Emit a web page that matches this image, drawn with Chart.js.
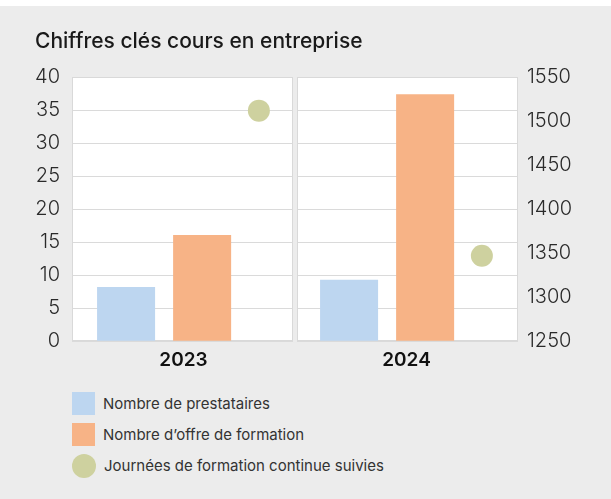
<!DOCTYPE html>
<html lang="fr">
<head>
<meta charset="utf-8">
<script src="https://cdn.jsdelivr.net/npm/chart.js@4.4.1/dist/chart.umd.min.js"></script>
<style>
    html, body { margin: 0; padding: 0; background: #ffffff; }
    #cadre {
        position: absolute; left: 0; top: 6px; width: 611px; height: 493px;
        background: #ececec; font-family: Inter, "Noto Sans", sans-serif;
    }
    #zone { position: absolute; left: 0; top: 0; width: 611px; height: 366px; }
    #legende { position: absolute; left: 72px; top: 382px; }
    .item { display: flex; align-items: center; height: 31px; font-size: 15px; color: #333; }
    .marque { width: 23px; height: 23px; margin-right: 8px; }
</style>
</head>
<body>
<div id="cadre">
    <div id="zone"><canvas id="grafica_chiffres"></canvas></div>
    <div id="legende"></div>
</div>
<script>
// Données du graphique "Chiffres clés cours en entreprise"
var annees = ['2023', '2024'];
var prestataires = [8.2, 9.3];
var offres = [16.1, 37.4];
var journees = [1512, 1347];

var nomsSeries = ['Nombre de prestataires', "Nombre d\u2019offre de formation", 'Journées de formation continue suivies'];
var couleurs = ['#bdd6f0', '#f7b386', '#ced19f'];
var ticksGauche = [0, 5, 10, 15, 20, 25, 30, 35, 40];
var ticksDroite = [1250, 1300, 1350, 1400, 1450, 1500, 1550];

// Décalage du groupe de barres et du point dans chaque catégorie
var decalBarres = -0.087;
var decalPoint = 0.338;

var policeBase = 'Inter, "Noto Sans", sans-serif';

// Panneaux blancs par année, séparés par une bande grise
var panneaux = {
    id: 'panneaux',
    beforeDraw: function (chart) {
        var ctx = chart.ctx, x = chart.scales.x, a = chart.chartArea;
        ctx.save();
        ctx.fillStyle = '#ffffff';
        annees.forEach(function (c, i) {
            var g = x.getPixelForValue(i - 0.5) + (i > 0 ? 2 : 0);
            var d = x.getPixelForValue(i + 0.5) - (i < annees.length - 1 ? 2 : 0);
            ctx.fillRect(g, a.top, d - g, a.bottom - a.top);
        });
        ctx.restore();
    },
    beforeDatasetsDraw: function (chart) {
        var ctx = chart.ctx, x = chart.scales.x, a = chart.chartArea;
        ctx.save();
        for (var i = 1; i < annees.length; i++) {
            var m = x.getPixelForValue(i - 0.5);
            ctx.fillStyle = '#ececec';
            ctx.fillRect(m - 2, a.top - 1, 4, a.bottom - a.top + 2);
        }
        ctx.strokeStyle = '#d9d9d9';
        ctx.lineWidth = 1;
        annees.forEach(function (c, i) {
            var g = x.getPixelForValue(i - 0.5) + (i > 0 ? 2 : 0);
            var d = x.getPixelForValue(i + 0.5) - (i < annees.length - 1 ? 2 : 0);
            ctx.strokeRect(Math.round(g) + 0.5, Math.round(a.top) + 0.5, Math.round(d - g) - 1, Math.round(a.bottom - a.top) - 1);
        });
        ctx.restore();
    }
};

var context = document.getElementById('grafica_chiffres').getContext('2d');

var chart = new Chart(context, {
    type: 'bar',
    data: {
        datasets: [
            {
                label: nomsSeries[0],
                data: prestataires.map(function (v, i) { return { x: i + decalBarres, y: v }; }),
                backgroundColor: couleurs[0],
                yAxisID: 'y',
                categoryPercentage: 0.682,
                barPercentage: 0.763,
                order: 2
            },
            {
                label: nomsSeries[1],
                data: offres.map(function (v, i) { return { x: i + decalBarres, y: v }; }),
                backgroundColor: couleurs[1],
                yAxisID: 'y',
                categoryPercentage: 0.682,
                barPercentage: 0.763,
                order: 2
            },
            {
                type: 'line',
                label: nomsSeries[2],
                data: journees.map(function (v, i) { return { x: i + decalPoint, y: v }; }),
                showLine: false,
                pointRadius: 11,
                pointHoverRadius: 11,
                pointBackgroundColor: couleurs[2],
                pointBorderWidth: 0,
                borderColor: couleurs[2],
                yAxisID: 'y1',
                order: 1
            }
        ]
    },
    options: {
        responsive: true,
        maintainAspectRatio: false,
        animation: false,
        layout: { padding: { left: 35, right: 0, top: 20, bottom: 0 } },
        plugins: {
            legend: { display: false },
            tooltip: { enabled: false },
            title: {
                display: true,
                text: 'Chiffres clés cours en entreprise',
                align: 'start',
                color: '#1a1a1a',
                font: { family: policeBase, size: 21, weight: '500' },
                padding: { top: 3, bottom: 23 }
            }
        },
        scales: {
            x: {
                type: 'linear',
                min: -0.5,
                max: 1.5,
                offset: false,
                afterBuildTicks: function (axis) {
                    axis.ticks = annees.map(function (c, i) { return { value: i }; });
                },
                ticks: {
                    autoSkip: false,
                    maxRotation: 0,
                    padding: 0,
                    color: '#111111',
                    font: { family: policeBase, size: 19, weight: '600' },
                    callback: function (v) { return annees[v]; }
                },
                grid: { display: false },
                border: { display: false }
            },
            y: {
                position: 'left',
                min: 0,
                max: 40,
                afterBuildTicks: function (axis) {
                    axis.ticks = ticksGauche.map(function (v) { return { value: v }; });
                },
                afterFit: function (axis) { axis.width = 37; },
                ticks: {
                    padding: 12,
                    color: '#2a2a2a',
                    font: { family: policeBase, size: 20, weight: '300' }
                },
                grid: { color: '#dadada', lineWidth: 1, drawTicks: false },
                border: { display: false }
            },
            y1: {
                position: 'right',
                min: 1250,
                max: 1550,
                afterBuildTicks: function (axis) {
                    axis.ticks = ticksDroite.map(function (v) { return { value: v }; });
                },
                afterFit: function (axis) { axis.width = 93; },
                ticks: {
                    padding: 9,
                    color: '#2a2a2a',
                    font: { family: policeBase, size: 20, weight: '300' },
                    callback: function (v) { return String(v); }
                },
                grid: { display: false, drawTicks: false },
                border: { display: false }
            }
        }
    },
    plugins: [panneaux]
});

// Légende en HTML, construite à partir des séries
var legende = document.getElementById('legende');
nomsSeries.forEach(function (nom, i) {
    var item = document.createElement('div');
    item.className = 'item';
    var marque = document.createElement('span');
    marque.className = 'marque';
    marque.style.background = couleurs[i];
    if (i === 2) { marque.style.borderRadius = '50%'; marque.style.width = '24px'; marque.style.height = '24px'; }
    var texte = document.createElement('span');
    texte.textContent = nom;
    item.appendChild(marque);
    item.appendChild(texte);
    legende.appendChild(item);
});
</script>
</body>
</html>
